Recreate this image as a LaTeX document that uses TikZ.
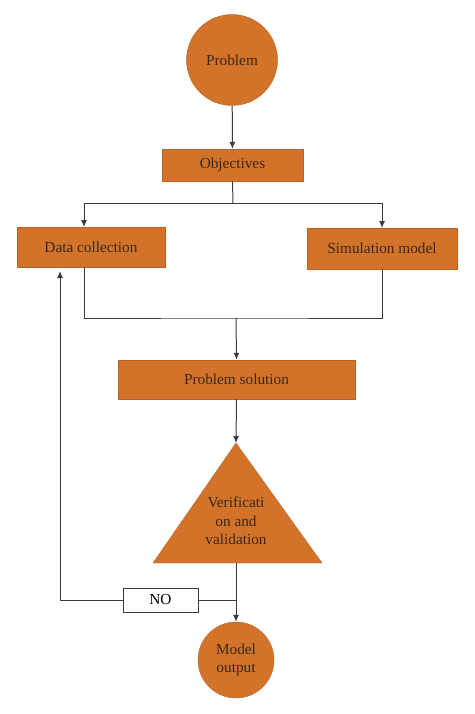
\documentclass[tikz,border=0pt]{standalone}
\usepackage{fontspec}
\setmainfont{Liberation Serif}
\usepackage{tikz}
\usetikzlibrary{calc,arrows.meta}
\definecolor{boxorange}{RGB}{211,115,42}
\definecolor{boxedge}{RGB}{185,98,35}
\definecolor{txtbrown}{RGB}{55,40,30}
\definecolor{wire}{RGB}{60,60,60}
\tikzset{box/.style={draw=boxedge,fill=boxorange,text=txtbrown,inner sep=0pt,font=\fontsize{15.3}{18}\selectfont}}
\tikzset{wire/.style={draw=wire,line width=1pt}}
\tikzset{arr/.style={wire,-{Latex[length=7pt,width=6pt]}}}

\begin{document}
\begin{tikzpicture}[x=1pt,y=-1pt]
    		\useasboundingbox (0,0) rectangle (474,714);
    		% blocks
    		\node[box,circle,minimum size=91pt] (prob) at (232,60) {Problem};
    		\node[box,minimum width=141pt,minimum height=32pt] (obj) at (232.5,165) {Objectives};
    		\node[box,minimum width=148pt,minimum height=40pt] (data) at (91,247) {Data collection};
    		\node[box,minimum width=150pt,minimum height=41pt] (sim) at (382,248.5) {Simulation model};
    		\node[box,minimum width=237pt,minimum height=39pt] (sol) at (236.5,379.5) {Problem solution};
    		\coordinate (vtop) at (236,443);
    		\coordinate (vbot) at (236,563);
    		\filldraw[box] (vtop) -- (322,563) -- (153,563) -- cycle;
    		\node[text=txtbrown,align=center,font=\fontsize{15.3}{18.5}\selectfont] (ver) at (236,521) {Verificati\\on and\\validation};
    		\node[box,circle,minimum size=76pt,align=center] (out) at (236,660) {Model\\output};
    		\node[draw=wire,fill=white,inner sep=0pt,minimum width=75pt,minimum height=24pt,font=\fontsize{15.3}{18}\selectfont] (no) at (160.5,600) {NO};
    		% joints
    		\coordinate (split) at (233,203);
    		\coordinate (dtop) at (84,227);
    		\coordinate (stop) at (382,228);
    		\coordinate (dbot) at (84,267);
    		\coordinate (sbot) at (382,269);
    		\coordinate (join) at (236,318);
    		\coordinate (dret) at (60,271);
    		% connectors
    		\draw[arr] (prob) -- (obj);
    		\draw[wire] (obj.south) -- (split);
    		\draw[arr] (split) -| (dtop);
    		\draw[arr] (split) -| (stop);
    		\draw[wire] (dbot) |- (join) -| (sbot);
    		\draw[arr] (join) -- (sol.north);
    		\draw[arr] (sol.south) -- (vtop);
    		\draw[arr] (vbot) -- (out.north);
    		\draw[wire] (no.east) -- (no.east -| vbot);
    		\draw[arr] (no.west) -| (dret);
		\end{tikzpicture}
\end{document}
